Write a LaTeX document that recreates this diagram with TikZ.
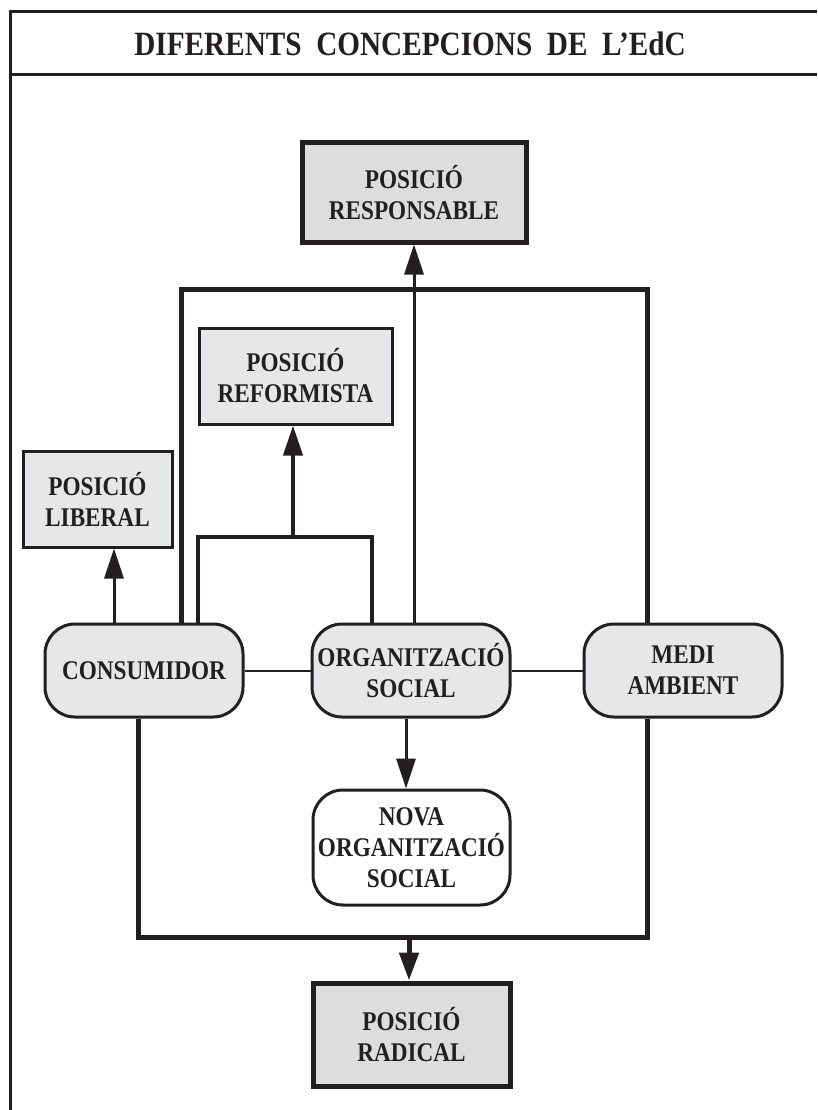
\documentclass[tikz,border=0pt]{standalone}
\usepackage{fontspec}
\setmainfont{Liberation Serif}
\newfontfamily\labfont{Liberation Serif}[FakeStretch=0.86]
\usetikzlibrary{arrows.meta}
\definecolor{ink}{HTML}{231F20}
\definecolor{softgray}{HTML}{E6E7E8}
\definecolor{midgray}{HTML}{DCDDDE}
\begin{document}
\begin{tikzpicture}[x=1pt,y=-1pt,
  lbl/.style={text=ink, align=center, inner sep=0pt,
    font={\labfont\bfseries\fontsize{27}{31}\selectfont}},
  posbox/.style={lbl, draw=ink, fill=softgray, line width=3pt},
  keybox/.style={posbox, fill=midgray, line width=5pt},
  roundbox/.style={lbl, draw=ink, fill=softgray, line width=3pt,
    rounded corners=30pt, minimum width=198pt, minimum height=93pt},
  frameline/.style={draw=ink, line width=3pt},
  thickline/.style={draw=ink, line width=5pt},
  midline/.style={draw=ink, line width=4pt},
  thinline/.style={draw=ink, line width=2pt},
  arr/.style={draw=ink, line width=3pt, -{Triangle[width=19pt,length=30pt]}},
  thickarr/.style={draw=ink, line width=5pt, -{Triangle[width=19pt,length=28pt]}}
]
\useasboundingbox (0,0) rectangle (817,1110);

% outer frame and title band
\draw[frameline] (10,1110) -- (10,12) -- (817,12);
\draw[frameline] (10,75) -- (817,75);
\node[text=ink, font={\labfont\bfseries\fontsize{34}{40}\selectfont}] (title) at (410,44)
  {DIFERENTS~~CONCEPCIONS~~DE~~L’EdC};

% positions
\node[keybox, minimum width=224pt, minimum height=99pt] (resp) at (414,192.5) {POSICIÓ\\RESPONSABLE};
\node[posbox, minimum width=193pt, minimum height=96pt] (refo) at (295.5,376) {POSICIÓ\\REFORMISTA};
\node[posbox, minimum width=149pt, minimum height=96pt] (libe) at (97.5,499) {POSICIÓ\\LIBERAL};
\node[keybox, minimum width=197pt, minimum height=103pt] (rad) at (411.5,1034.5) {POSICIÓ\\RADICAL};

% agents
\node[roundbox] (cons) at (144,670.5) {CONSUMIDOR};
\node[roundbox] (org) at (411,670.5) {ORGANITZACIÓ\\SOCIAL};
\node[roundbox] (medi) at (683,670.5) {MEDI\\AMBIENT};
\node[roundbox, fill=white, minimum width=197pt, minimum height=115pt] (nova) at (411.5,847.5) {NOVA\\ORGANITZACIÓ\\SOCIAL};

% junction points
\coordinate (topL) at (181,289);
\coordinate (topR) at (647,289);
\coordinate (midL) at (198,537);
\coordinate (midR) at (372,537);
\coordinate (midC) at (293,537);
\coordinate (botL) at (138,937);
\coordinate (botR) at (647,937);
\coordinate (botC) at (409,937);

% horizontal links between agents
\draw[thinline] (cons.east) -- (org.west);
\draw[thinline] (org.east) -- (medi.west);

% upper frame joining consumer and environment
\draw[thickline] (cons.north -| topL) |- (topR) -- (medi.north -| topR);

% lower frame joining consumer and environment
\draw[thickline] (cons.south -| botL) |- (botR) -- (medi.south -| botR);

% reformist branch
\draw[midline] (cons.north -| midL) |- (midR) -- (org.north -| midR);
\draw[arr, line width=4pt] (midC) -- (refo.south -| midC);

% liberal arrow
\draw[arr] (cons.north -| 114,0) -- (libe.south -| 114,0);

% responsible arrow
\draw[arr] (org.north -| 414,0) -- (resp.south);

% new social organisation
\draw[arr] (org.south -| 406,0) -- (nova.north -| 406,0);

% radical arrow
\draw[thickarr] ([yshift=-2.5pt]botC) -- (rad.north -| botC);
\end{tikzpicture}
\end{document}
